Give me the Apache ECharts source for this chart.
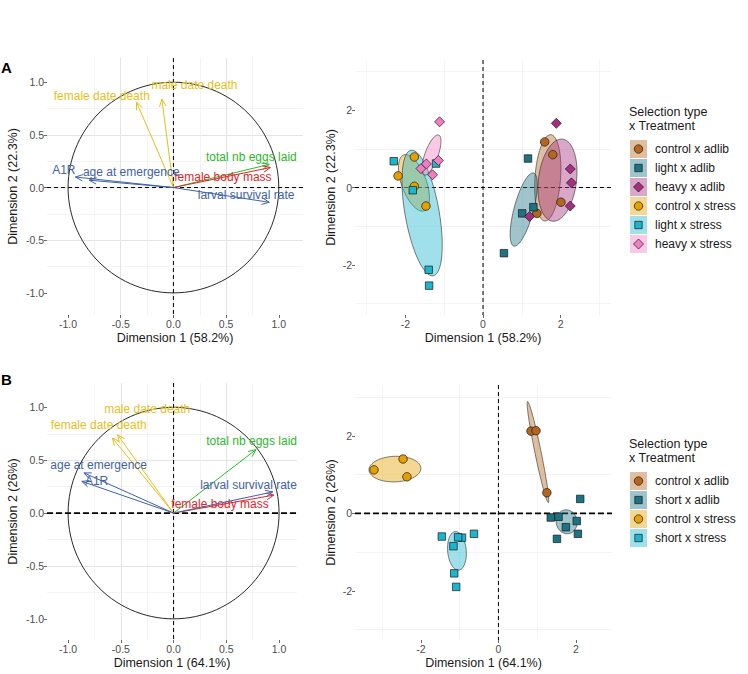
<!DOCTYPE html>
<html><head><meta charset="utf-8">
<script src="https://cdn.jsdelivr.net/npm/echarts/dist/echarts.min.js"></script>
<style>html,body{margin:0;padding:0;background:#fff}#c{width:748px;height:674px}</style>
</head><body><div id="c"></div>
<script>
// ---------------- DATA ----------------
const groupsA = ['control x adlib','light x adlib','heavy x adlib','control x stress','light x stress','heavy x stress'];
const groupsB = ['control x adlib','short x adlib','control x stress','short x stress'];

// Panel A individuals (Dimension 1 / Dimension 2)
const ctrlAdlibA_x = [1.59, 1.80, 1.39, 2.01];
const ctrlAdlibA_y = [1.18, 0.85, -0.67, -0.38];
const lightAdlibA_x = [1.16, 1.01, 1.30, 0.54];
const lightAdlibA_y = [0.75, -0.67, -0.51, -1.70];
const heavyAdlibA_x = [1.89, 2.25, 2.28, 2.25, 1.20];
const heavyAdlibA_y = [1.66, 0.48, 0.12, -0.48, -0.75];
const ctrlStressA_x = [-2.19, -1.77, -1.77, -1.47];
const ctrlStressA_y = [0.30, 0.79, 0.03, -0.48];
const lightStressA_x = [-2.30, -1.81, -1.21, -1.40, -1.39];
const lightStressA_y = [0.68, -0.07, 0.62, -2.13, -2.54];
const heavyStressA_x = [-1.12, -1.60, -1.46, -1.15, -1.30];
const heavyStressA_y = [1.70, 0.49, 0.61, 0.70, 0.33];

// Panel B individuals
const ctrlAdlibB_x = [0.84, 0.97, 1.25];
const ctrlAdlibB_y = [2.12, 2.13, 0.53];
const shortAdlibB_x = [2.11, 1.35, 1.55, 1.74, 2.02, 2.05, 1.51];
const shortAdlibB_y = [0.37, -0.11, -0.09, -0.36, -0.20, -0.53, -0.66];
const ctrlStressB_x = [-3.21, -2.46, -2.36];
const ctrlStressB_y = [1.12, 1.40, 0.94];
const shortStressB_x = [-1.46, -0.63, -0.94, -1.04, -1.16, -1.14, -1.09];
const shortStressB_y = [-0.60, -0.53, -0.63, -0.62, -0.85, -1.55, -1.90];

// Confidence ellipses: [centre x, centre y, semi-major, semi-minor, angle deg]
const ellA_ctrlAdlib = [1.67, 0.25, 1.12, 0.33, 86];
const ellA_lightAdlib = [1.05, -0.57, 0.98, 0.25, 75];
const ellA_heavyAdlib = [1.92, 0.19, 1.07, 0.49, 83];
const ellA_ctrlStress = [-1.78, 0.12, 0.77, 0.32, 110];
const ellA_lightStress = [-1.57, -0.66, 1.65, 0.44, 100];
const ellA_heavyStress = [-1.33, 0.84, 0.55, 0.17, 70];
const ellB_ctrlAdlib = [1.02, 1.58, 1.33, 0.08, 101.6];
const ellB_shortAdlib = [1.76, -0.22, 0.31, 0.27, 100];
const ellB_ctrlStress = [-2.67, 1.14, 0.67, 0.33, 2];
const ellB_shortStress = [-1.07, -0.97, 0.50, 0.24, 95];

// Variable loadings (correlation circle)
const varNames = ['male date death','female date death','total nb eggs laid','female body mass','larval survival rate','A1R','age at emergence'];
const varA_x = [-0.11, -0.35, 0.91, 0.92, 0.91, -0.93, -0.80];
const varA_y = [0.84, 0.81, 0.22, 0.19, -0.14, 0.10, 0.07];
const labA_x = [0.20, -0.68, 0.74, 0.47, 0.69, -1.04, -0.40];
const labA_y = [0.97, 0.87, 0.29, 0.10, -0.07, 0.17, 0.15];
const varB_x = [-0.53, -0.58, 0.78, 0.95, 0.94, -0.87, -0.85];
const varB_y = [0.74, 0.71, 0.60, 0.17, 0.20, 0.30, 0.38];
const labB_x = [-0.25, -0.71, 0.74, 0.44, 0.71, -0.73, -0.71];
const labB_y = [0.98, 0.83, 0.68, 0.085, 0.27, 0.30, 0.45];

// Tick labels
const ticksCircle = [-1.0, -0.5, 0.0, 0.5, 1.0];
const ticksScores = [-2, 0, 2];
const axisTitlesA = ['Dimension 1 (58.2%)', 'Dimension 2 (22.3%)'];
const axisTitlesB = ['Dimension 1 (64.1%)', 'Dimension 2 (26%)'];
const legendTitle = ['Selection type', 'x Treatment'];

// ---------------- STYLE ----------------
const F = '"Liberation Sans", Arial, Helvetica, sans-serif';
const varColor = ['#E6BF1A','#E6BF1A','#2DB82D','#E0262B','#3F62A6','#3F62A6','#3F62A6'];
const STY = {
  'control x adlib': {c:'#B5651D', s:'circle'},
  'light x adlib': {c:'#1B7383', s:'rect'},
  'short x adlib': {c:'#1B7383', s:'rect'},
  'heavy x adlib': {c:'#A52F7F', s:'diamond'},
  'control x stress': {c:'#E69F00', s:'circle'},
  'light x stress': {c:'#1DB4CE', s:'rect'},
  'short x stress': {c:'#1DB4CE', s:'rect'},
  'heavy x stress': {c:'#F27EC2', s:'diamond'}
};
const SYMSIZE = {circle: 8.5, rect: 7.5, diamond: 10};
function rgba(hex, a){const n=parseInt(hex.slice(1),16);return 'rgba('+((n>>16)&255)+','+((n>>8)&255)+','+(n&255)+','+a+')';}

const scoresA = {
  'control x adlib':[ctrlAdlibA_x, ctrlAdlibA_y], 'light x adlib':[lightAdlibA_x, lightAdlibA_y],
  'heavy x adlib':[heavyAdlibA_x, heavyAdlibA_y], 'control x stress':[ctrlStressA_x, ctrlStressA_y],
  'light x stress':[lightStressA_x, lightStressA_y], 'heavy x stress':[heavyStressA_x, heavyStressA_y]
};
const ellipsesA = {
  'control x adlib':ellA_ctrlAdlib, 'light x adlib':ellA_lightAdlib, 'heavy x adlib':ellA_heavyAdlib,
  'control x stress':ellA_ctrlStress, 'light x stress':ellA_lightStress, 'heavy x stress':ellA_heavyStress
};
const scoresB = {
  'control x adlib':[ctrlAdlibB_x, ctrlAdlibB_y], 'short x adlib':[shortAdlibB_x, shortAdlibB_y],
  'control x stress':[ctrlStressB_x, ctrlStressB_y], 'short x stress':[shortStressB_x, shortStressB_y]
};
const ellipsesB = {
  'control x adlib':ellB_ctrlAdlib, 'short x adlib':ellB_shortAdlib,
  'control x stress':ellB_ctrlStress, 'short x stress':ellB_shortStress
};

// ---------------- AXES ----------------
function axis(gi, min, max, iv, ticks, dec, name, gap) {
  return {
    type:'value', gridIndex:gi, min:min, max:max,
    splitNumber: Math.max(1, Math.round((max-min)/iv)), minInterval:iv, maxInterval:iv,
    name:name, nameLocation:'middle', nameGap:gap,
    nameTextStyle:{color:'#1a1a1a', fontSize:12.5, fontFamily:F},
    axisLine:{show:false, onZero:false},
    axisTick:{show:true, length:3, customValues:ticks, lineStyle:{color:'#444', width:0.8}},
    axisLabel:{show:true, customValues:ticks, color:'#4d4d4d', fontSize:10.5, fontFamily:F, margin:3,
      formatter:function(v){return Number(v).toFixed(dec);}},
    splitLine:{show:true, showMinLine:false, showMaxLine:false, lineStyle:{color:'#e4e4e4', width:1}},
    minorTick:{show:false, splitNumber:2},
    minorSplitLine:{show:true, lineStyle:{color:'#efefef', width:0.7}}
  };
}

const grids = [
  {left:47, top:58, width:256, height:257},
  {left:355, top:60, width:256, height:255},
  {left:47, top:383, width:250, height:257},
  {left:355, top:385, width:257, height:255}
];
const xAxes = [
  axis(0, -1.20, 1.23, 0.5, ticksCircle, 1, axisTitlesA[0], 16),
  axis(1, -3.3, 3.3, 2, ticksScores, 0, axisTitlesA[0], 16),
  axis(2, -1.20, 1.17, 0.5, ticksCircle, 1, axisTitlesB[0], 16),
  axis(3, -3.7, 2.93, 2, ticksScores, 0, axisTitlesB[0], 16)
];
const yAxes = [
  axis(0, -1.21, 1.23, 0.5, ticksCircle, 1, axisTitlesA[1], 28),
  axis(1, -3.3, 3.3, 2, ticksScores, 0, axisTitlesA[1], 18),
  axis(2, -1.20, 1.23, 0.5, ticksCircle, 1, axisTitlesB[1], 28),
  axis(3, -3.27, 3.31, 2, ticksScores, 0, axisTitlesB[1], 18)
];

// ---------------- SERIES ----------------
function crossSeries(gi, hW, hDash, vW, vDash, withCircle) {
  return {type:'custom', xAxisIndex:gi, yAxisIndex:gi, z:1, silent:true, data:[[0,0]], encode:{x:0,y:1},
    renderItem:function(params, api){
      const cs = params.coordSys; const p = api.coord([api.value(0), api.value(1)]);
      const ch = [
        {type:'line', shape:{x1:p[0], y1:cs.y, x2:p[0], y2:cs.y+cs.height}, style:{stroke:'#000', lineWidth:vW, lineDash:vDash}},
        {type:'line', shape:{x1:cs.x, y1:p[1], x2:cs.x+cs.width, y2:p[1]}, style:{stroke:'#000', lineWidth:hW, lineDash:hDash}}
      ];
      if (withCircle) {
        const pts = [];
        for (let k=0;k<=120;k++){const t=k/120*2*Math.PI; pts.push(api.coord([Math.cos(t), Math.sin(t)]));}
        ch.push({type:'polyline', shape:{points:pts}, style:{stroke:'#111', lineWidth:0.9, fill:null}});
      }
      return {type:'group', children:ch};
    }};
}

function arrowSeries(gi, xs, ys, lx, ly) {
  const data = xs.map(function(x,i){return [x, ys[i], lx[i], ly[i], i];});
  return {type:'custom', xAxisIndex:gi, yAxisIndex:gi, z:4, silent:true, data:data, encode:{x:0,y:1},
    renderItem:function(params, api){
      const i = api.value(4); const col = varColor[i];
      const p0 = api.coord([0,0]), p1 = api.coord([api.value(0), api.value(1)]);
      const dx = p1[0]-p0[0], dy = p1[1]-p0[1], L = Math.hypot(dx,dy), ux = dx/L, uy = dy/L;
      const h = 8, a = 0.42, c = Math.cos(a), s = Math.sin(a);
      const b1 = [p1[0] - h*(ux*c - uy*s), p1[1] - h*(uy*c + ux*s)];
      const b2 = [p1[0] - h*(ux*c + uy*s), p1[1] - h*(uy*c - ux*s)];
      const lp = api.coord([api.value(2), api.value(3)]);
      return {type:'group', children:[
        {type:'line', shape:{x1:p0[0], y1:p0[1], x2:p1[0], y2:p1[1]}, style:{stroke:col, lineWidth:1}},
        {type:'polyline', shape:{points:[b1,p1,b2]}, style:{stroke:col, lineWidth:1, fill:null}},
        {type:'text', style:{text:varNames[i], x:lp[0], y:lp[1], fill:col, font:'12px '+F, textAlign:'center', textVerticalAlign:'middle'}}
      ]};
    }};
}

function ellipseSeries(gi, name, e) {
  const col = STY[name].c;
  return {type:'custom', name:name, xAxisIndex:gi, yAxisIndex:gi, z:2, silent:true, data:[e], encode:{x:0,y:1},
    renderItem:function(params, api){
      const cx=api.value(0), cy=api.value(1), A=api.value(2), B=api.value(3), ang=api.value(4)*Math.PI/180;
      const pts=[];
      for (let k=0;k<90;k++){const t=k/90*2*Math.PI;
        pts.push(api.coord([cx + A*Math.cos(t)*Math.cos(ang) - B*Math.sin(t)*Math.sin(ang),
                            cy + A*Math.cos(t)*Math.sin(ang) + B*Math.sin(t)*Math.cos(ang)]));}
      return {type:'polygon', shape:{points:pts}, style:{fill:rgba(col,0.42), stroke:'rgba(40,40,40,0.85)', lineWidth:0.7}};
    }};
}

function scatterSeries(gi, name, xy) {
  const st = STY[name];
  return {type:'scatter', name:name, xAxisIndex:gi, yAxisIndex:gi, z:3, silent:true,
    symbol:st.s, symbolSize:SYMSIZE[st.s],
    itemStyle:{color:st.c, borderColor:'#1a1a1a', borderWidth:0.7, opacity:1},
    data: xy[0].map(function(x,i){return [x, xy[1][i]];})};
}

const series = [];
series.push(crossSeries(0, 1, [4,3], 1, [4,3], true));
series.push(arrowSeries(0, varA_x, varA_y, labA_x, labA_y));
series.push(crossSeries(1, 1, [4,3], 1, [4,3], false));
groupsA.forEach(function(g){series.push(ellipseSeries(1, g, ellipsesA[g]));});
groupsA.forEach(function(g){series.push(scatterSeries(1, g, scoresA[g]));});
series.push(crossSeries(2, 1.7, [6,3], 1, [4,3], true));
series.push(arrowSeries(2, varB_x, varB_y, labB_x, labB_y));
series.push(crossSeries(3, 1.7, [6,3], 1, [4,3], false));
groupsB.forEach(function(g){series.push(ellipseSeries(3, g, ellipsesB[g]));});
groupsB.forEach(function(g){series.push(scatterSeries(3, g, scoresB[g]));});

// ---------------- LEGEND / LABELS ----------------
function legendEls(t1, y0, names) {
  const els = [
    {type:'text', x:629, y:t1, style:{text:legendTitle[0], font:'12.5px '+F, fill:'#1a1a1a', textVerticalAlign:'middle'}},
    {type:'text', x:629, y:t1+14, style:{text:legendTitle[1], font:'12.5px '+F, fill:'#1a1a1a', textVerticalAlign:'middle'}}
  ];
  names.forEach(function(n,k){
    const cy = y0 + k*19, st = STY[n], cx = 638.5;
    els.push({type:'rect', shape:{x:630, y:cy-9, width:17, height:18}, style:{fill:rgba(st.c,0.42)}});
    if (st.s==='circle') els.push({type:'circle', shape:{cx:cx, cy:cy, r:4.2}, style:{fill:st.c, stroke:'#1a1a1a', lineWidth:0.7}});
    else if (st.s==='rect') els.push({type:'rect', shape:{x:cx-3.7, y:cy-3.7, width:7.4, height:7.4}, style:{fill:st.c, stroke:'#1a1a1a', lineWidth:0.7}});
    else els.push({type:'polygon', shape:{points:[[cx,cy-5],[cx+5,cy],[cx,cy+5],[cx-5,cy]]}, style:{fill:st.c, stroke:'#1a1a1a', lineWidth:0.7}});
    els.push({type:'text', x:655, y:cy, style:{text:n, font:'12px '+F, fill:'#1a1a1a', textVerticalAlign:'middle'}});
  });
  return els;
}
const graphics = [].concat(
  [{type:'text', x:1, y:67, style:{text:'A', font:'bold 15px '+F, fill:'#000', textVerticalAlign:'middle'}},
   {type:'text', x:1, y:379, style:{text:'B', font:'bold 15px '+F, fill:'#000', textVerticalAlign:'middle'}}],
  legendEls(112, 149, groupsA),
  legendEls(444, 481, groupsB)
);

const chart = echarts.init(document.getElementById('c'), null, {renderer:'svg', width:748, height:674});
chart.setOption({
  animation:false, backgroundColor:'#fff',
  grid:grids, xAxis:xAxes, yAxis:yAxes, series:series, graphic:{elements:graphics}
});
</script></body></html>
